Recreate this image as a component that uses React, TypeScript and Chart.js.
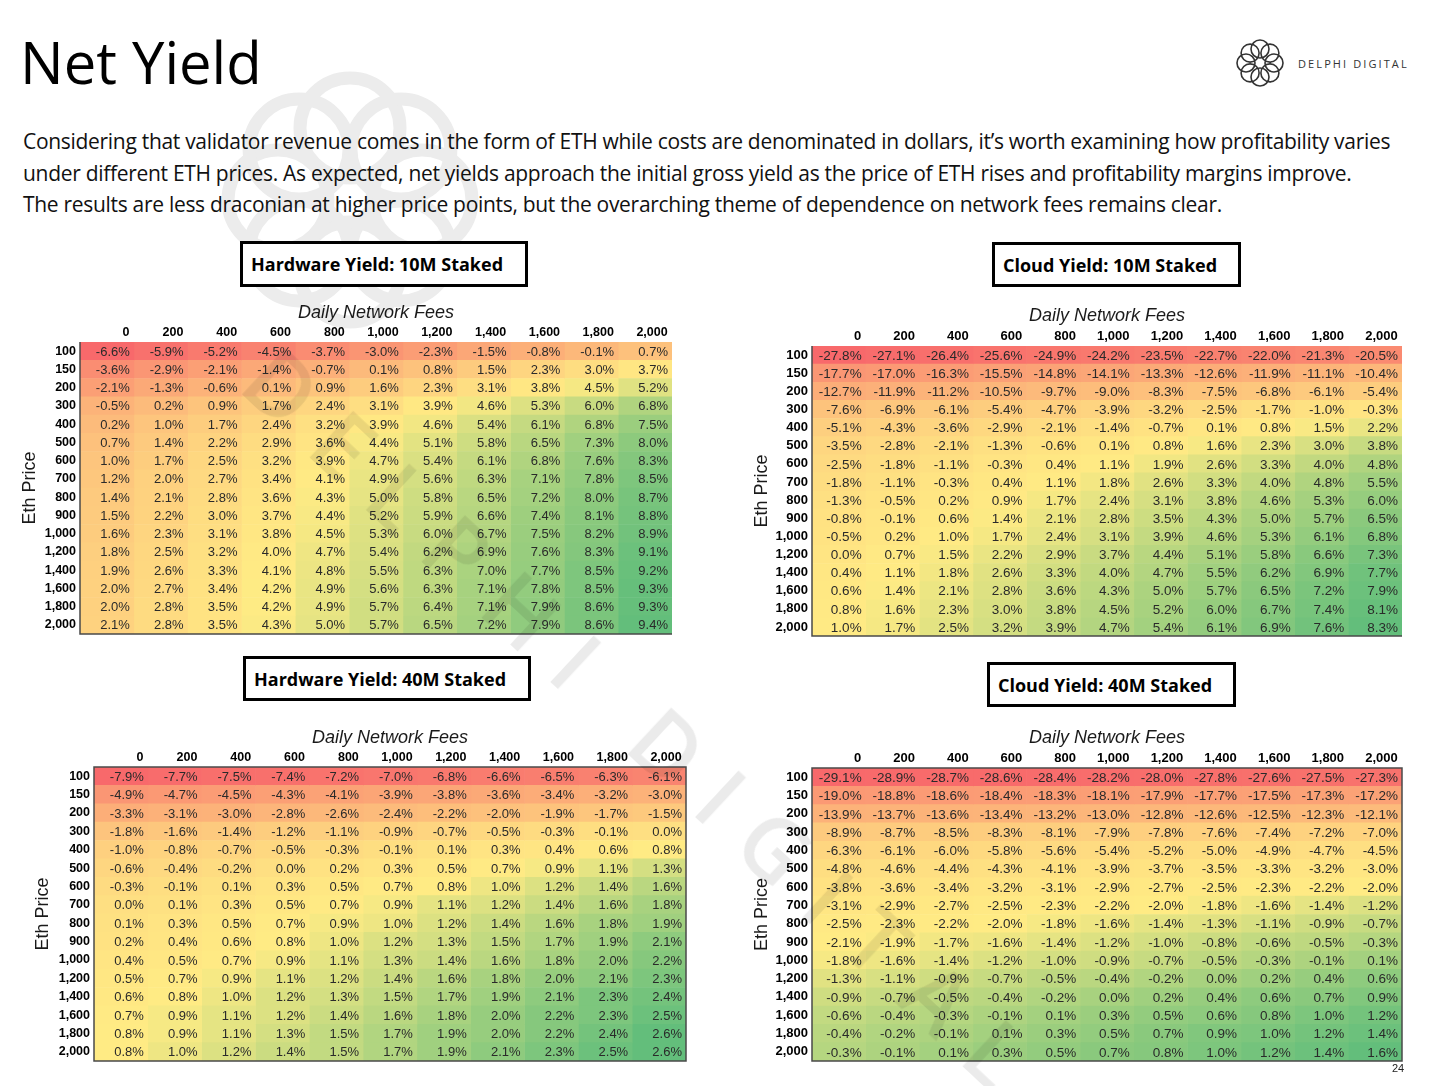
import React, { useEffect, useRef } from 'react';
import { Chart, registerables } from 'chart.js';

Chart.register(...registerables);

// ---------- DATA ----------
const feeLabels = ['0', '200', '400', '600', '800', '1,000', '1,200', '1,400', '1,600', '1,800', '2,000'];
const priceLabels = ['100', '150', '200', '300', '400', '500', '600', '700', '800', '900', '1,000', '1,200', '1,400', '1,600', '1,800', '2,000'];

const hardware10M = [
  [-6.6, -5.9, -5.2, -4.5, -3.7, -3.0, -2.3, -1.5, -0.8, -0.1, 0.7],
  [-3.6, -2.9, -2.1, -1.4, -0.7, 0.1, 0.8, 1.5, 2.3, 3.0, 3.7],
  [-2.1, -1.3, -0.6, 0.1, 0.9, 1.6, 2.3, 3.1, 3.8, 4.5, 5.2],
  [-0.5, 0.2, 0.9, 1.7, 2.4, 3.1, 3.9, 4.6, 5.3, 6.0, 6.8],
  [0.2, 1.0, 1.7, 2.4, 3.2, 3.9, 4.6, 5.4, 6.1, 6.8, 7.5],
  [0.7, 1.4, 2.2, 2.9, 3.6, 4.4, 5.1, 5.8, 6.5, 7.3, 8.0],
  [1.0, 1.7, 2.5, 3.2, 3.9, 4.7, 5.4, 6.1, 6.8, 7.6, 8.3],
  [1.2, 2.0, 2.7, 3.4, 4.1, 4.9, 5.6, 6.3, 7.1, 7.8, 8.5],
  [1.4, 2.1, 2.8, 3.6, 4.3, 5.0, 5.8, 6.5, 7.2, 8.0, 8.7],
  [1.5, 2.2, 3.0, 3.7, 4.4, 5.2, 5.9, 6.6, 7.4, 8.1, 8.8],
  [1.6, 2.3, 3.1, 3.8, 4.5, 5.3, 6.0, 6.7, 7.5, 8.2, 8.9],
  [1.8, 2.5, 3.2, 4.0, 4.7, 5.4, 6.2, 6.9, 7.6, 8.3, 9.1],
  [1.9, 2.6, 3.3, 4.1, 4.8, 5.5, 6.3, 7.0, 7.7, 8.5, 9.2],
  [2.0, 2.7, 3.4, 4.2, 4.9, 5.6, 6.3, 7.1, 7.8, 8.5, 9.3],
  [2.0, 2.8, 3.5, 4.2, 4.9, 5.7, 6.4, 7.1, 7.9, 8.6, 9.3],
  [2.1, 2.8, 3.5, 4.3, 5.0, 5.7, 6.5, 7.2, 7.9, 8.6, 9.4],
];

const cloud10M = [
  [-27.8, -27.1, -26.4, -25.6, -24.9, -24.2, -23.5, -22.7, -22.0, -21.3, -20.5],
  [-17.7, -17.0, -16.3, -15.5, -14.8, -14.1, -13.3, -12.6, -11.9, -11.1, -10.4],
  [-12.7, -11.9, -11.2, -10.5, -9.7, -9.0, -8.3, -7.5, -6.8, -6.1, -5.4],
  [-7.6, -6.9, -6.1, -5.4, -4.7, -3.9, -3.2, -2.5, -1.7, -1.0, -0.3],
  [-5.1, -4.3, -3.6, -2.9, -2.1, -1.4, -0.7, 0.1, 0.8, 1.5, 2.2],
  [-3.5, -2.8, -2.1, -1.3, -0.6, 0.1, 0.8, 1.6, 2.3, 3.0, 3.8],
  [-2.5, -1.8, -1.1, -0.3, 0.4, 1.1, 1.9, 2.6, 3.3, 4.0, 4.8],
  [-1.8, -1.1, -0.3, 0.4, 1.1, 1.8, 2.6, 3.3, 4.0, 4.8, 5.5],
  [-1.3, -0.5, 0.2, 0.9, 1.7, 2.4, 3.1, 3.8, 4.6, 5.3, 6.0],
  [-0.8, -0.1, 0.6, 1.4, 2.1, 2.8, 3.5, 4.3, 5.0, 5.7, 6.5],
  [-0.5, 0.2, 1.0, 1.7, 2.4, 3.1, 3.9, 4.6, 5.3, 6.1, 6.8],
  [0.0, 0.7, 1.5, 2.2, 2.9, 3.7, 4.4, 5.1, 5.8, 6.6, 7.3],
  [0.4, 1.1, 1.8, 2.6, 3.3, 4.0, 4.7, 5.5, 6.2, 6.9, 7.7],
  [0.6, 1.4, 2.1, 2.8, 3.6, 4.3, 5.0, 5.7, 6.5, 7.2, 7.9],
  [0.8, 1.6, 2.3, 3.0, 3.8, 4.5, 5.2, 6.0, 6.7, 7.4, 8.1],
  [1.0, 1.7, 2.5, 3.2, 3.9, 4.7, 5.4, 6.1, 6.9, 7.6, 8.3],
];

const hardware40M = [
  [-7.9, -7.7, -7.5, -7.4, -7.2, -7.0, -6.8, -6.6, -6.5, -6.3, -6.1],
  [-4.9, -4.7, -4.5, -4.3, -4.1, -3.9, -3.8, -3.6, -3.4, -3.2, -3.0],
  [-3.3, -3.1, -3.0, -2.8, -2.6, -2.4, -2.2, -2.0, -1.9, -1.7, -1.5],
  [-1.8, -1.6, -1.4, -1.2, -1.1, -0.9, -0.7, -0.5, -0.3, -0.1, 0.0],
  [-1.0, -0.8, -0.7, -0.5, -0.3, -0.1, 0.1, 0.3, 0.4, 0.6, 0.8],
  [-0.6, -0.4, -0.2, 0.0, 0.2, 0.3, 0.5, 0.7, 0.9, 1.1, 1.3],
  [-0.3, -0.1, 0.1, 0.3, 0.5, 0.7, 0.8, 1.0, 1.2, 1.4, 1.6],
  [0.0, 0.1, 0.3, 0.5, 0.7, 0.9, 1.1, 1.2, 1.4, 1.6, 1.8],
  [0.1, 0.3, 0.5, 0.7, 0.9, 1.0, 1.2, 1.4, 1.6, 1.8, 1.9],
  [0.2, 0.4, 0.6, 0.8, 1.0, 1.2, 1.3, 1.5, 1.7, 1.9, 2.1],
  [0.4, 0.5, 0.7, 0.9, 1.1, 1.3, 1.4, 1.6, 1.8, 2.0, 2.2],
  [0.5, 0.7, 0.9, 1.1, 1.2, 1.4, 1.6, 1.8, 2.0, 2.1, 2.3],
  [0.6, 0.8, 1.0, 1.2, 1.3, 1.5, 1.7, 1.9, 2.1, 2.3, 2.4],
  [0.7, 0.9, 1.1, 1.2, 1.4, 1.6, 1.8, 2.0, 2.2, 2.3, 2.5],
  [0.8, 0.9, 1.1, 1.3, 1.5, 1.7, 1.9, 2.0, 2.2, 2.4, 2.6],
  [0.8, 1.0, 1.2, 1.4, 1.5, 1.7, 1.9, 2.1, 2.3, 2.5, 2.6],
];

const cloud40M = [
  [-29.1, -28.9, -28.7, -28.6, -28.4, -28.2, -28.0, -27.8, -27.6, -27.5, -27.3],
  [-19.0, -18.8, -18.6, -18.4, -18.3, -18.1, -17.9, -17.7, -17.5, -17.3, -17.2],
  [-13.9, -13.7, -13.6, -13.4, -13.2, -13.0, -12.8, -12.6, -12.5, -12.3, -12.1],
  [-8.9, -8.7, -8.5, -8.3, -8.1, -7.9, -7.8, -7.6, -7.4, -7.2, -7.0],
  [-6.3, -6.1, -6.0, -5.8, -5.6, -5.4, -5.2, -5.0, -4.9, -4.7, -4.5],
  [-4.8, -4.6, -4.4, -4.3, -4.1, -3.9, -3.7, -3.5, -3.3, -3.2, -3.0],
  [-3.8, -3.6, -3.4, -3.2, -3.1, -2.9, -2.7, -2.5, -2.3, -2.2, -2.0],
  [-3.1, -2.9, -2.7, -2.5, -2.3, -2.2, -2.0, -1.8, -1.6, -1.4, -1.2],
  [-2.5, -2.3, -2.2, -2.0, -1.8, -1.6, -1.4, -1.3, -1.1, -0.9, -0.7],
  [-2.1, -1.9, -1.7, -1.6, -1.4, -1.2, -1.0, -0.8, -0.6, -0.5, -0.3],
  [-1.8, -1.6, -1.4, -1.2, -1.0, -0.9, -0.7, -0.5, -0.3, -0.1, 0.1],
  [-1.3, -1.1, -0.9, -0.7, -0.5, -0.4, -0.2, 0.0, 0.2, 0.4, 0.6],
  [-0.9, -0.7, -0.5, -0.4, -0.2, 0.0, 0.2, 0.4, 0.6, 0.7, 0.9],
  [-0.6, -0.4, -0.3, -0.1, 0.1, 0.3, 0.5, 0.6, 0.8, 1.0, 1.2],
  [-0.4, -0.2, -0.1, 0.1, 0.3, 0.5, 0.7, 0.9, 1.0, 1.2, 1.4],
  [-0.3, -0.1, 0.1, 0.3, 0.5, 0.7, 0.8, 1.0, 1.2, 1.4, 1.6],
];

const paragraphLines = [
  'Considering that validator revenue comes in the form of ETH while costs are denominated in dollars, it’s worth examining how profitability varies',
  'under different ETH prices. As expected, net yields approach the initial gross yield as the price of ETH rises and profitability margins improve.',
  'The results are less draconian at higher price points, but the overarching theme of dependence on network fees remains clear.',
];

// ---------- COLOR SCALE (Excel-style 3 colour scale) ----------
const RED = [248, 105, 107];
const YEL = [255, 235, 132];
const GRN = [99, 190, 123];

function mix(a: number[], b: number[], t: number) {
  const c = a.map((v, i) => Math.round(v + (b[i] - v) * t));
  return `rgb(${c[0]},${c[1]},${c[2]})`;
}

function makeColorScale(values: number[][]) {
  const flat = values.flat().slice().sort((a, b) => a - b);
  const min = flat[0];
  const max = flat[flat.length - 1];
  const pos = (flat.length - 1) * 0.5;
  const lo = Math.floor(pos);
  const mid = flat[lo] + (flat[Math.min(lo + 1, flat.length - 1)] - flat[lo]) * (pos - lo);
  return (v: number) => {
    if (v <= mid) return mix(RED, YEL, mid === min ? 1 : (v - min) / (mid - min));
    return mix(YEL, GRN, max === mid ? 1 : (v - mid) / (max - mid));
  };
}

const TABLE_FONT = '"Liberation Sans", Arial, sans-serif';
Chart.defaults.font.family = TABLE_FONT;

type HeatmapProps = {
  values: number[][];
  gridLeft: number;
  gridTop: number;
  gridRight: number;
  gridBottom: number;
  axisW: number;
  axisH: number;
  fullBorder: boolean;
  cellFont: number;
  labelFont: number;
};

function Heatmap({ values, gridLeft, gridTop, gridRight, gridBottom, axisW, axisH, fullBorder, cellFont, labelFont }: HeatmapProps) {
  const ref = useRef<HTMLCanvasElement>(null);
  const PAD = 3;
  const W = gridRight - gridLeft + axisW + PAD;
  const H = gridBottom - gridTop + axisH + PAD;

  useEffect(() => {
    if (!ref.current) return;
    const colorOf = makeColorScale(values);
    const datasets = feeLabels.map((fee, j) => ({
      label: fee,
      data: priceLabels.map(() => 1),
      backgroundColor: priceLabels.map((_, i) => colorOf(values[i][j])),
      borderWidth: 0,
      barPercentage: 1,
      categoryPercentage: 1,
    }));

    const cellText = {
      id: 'cellText',
      afterDatasetsDraw(chart: any) {
        const ctx = chart.ctx;
        ctx.save();
        ctx.font = `${cellFont}px ${TABLE_FONT}`;
        ctx.fillStyle = '#2a2a2a';
        ctx.textAlign = 'right';
        ctx.textBaseline = 'middle';
        chart.data.datasets.forEach((_: any, j: number) => {
          const meta = chart.getDatasetMeta(j);
          meta.data.forEach((el: any, i: number) => {
            const { x, y } = el.getProps(['x', 'y'], true);
            ctx.fillText(values[i][j].toFixed(1) + '%', x - 4, y + 1);
          });
        });
        const a = chart.chartArea;
        ctx.strokeStyle = '#4a4a4a';
        ctx.lineWidth = 1.5;
        ctx.beginPath();
        if (fullBorder) {
          ctx.rect(a.left, a.top, a.right - a.left, a.bottom - a.top);
        } else {
          ctx.moveTo(a.left, a.top);
          ctx.lineTo(a.left, a.bottom);
          ctx.lineTo(a.right, a.bottom);
        }
        ctx.stroke();
        ctx.restore();
      },
    };

    const chart = new Chart(ref.current, {
      type: 'bar',
      data: { labels: priceLabels, datasets },
      options: {
        indexAxis: 'y',
        responsive: false,
        animation: false,
        layout: { padding: { left: 0, top: 0, right: PAD, bottom: PAD } },
        plugins: {
          legend: { display: false },
          tooltip: { enabled: false },
        },
        scales: {
          x: {
            type: 'linear',
            stacked: true,
            position: 'top',
            min: 0,
            max: feeLabels.length,
            grid: { display: false, drawTicks: false },
            border: { display: false },
            afterBuildTicks: (s: any) => {
              s.ticks = feeLabels.map((_, j) => ({ value: j + 0.92 }));
            },
            afterFit: (s: any) => {
              s.height = axisH;
              s.paddingLeft = 0;
              s.paddingRight = 0;
            },
            ticks: {
              autoSkip: false,
              maxRotation: 0,
              align: 'end',
              padding: 2,
              color: '#000',
              font: { size: labelFont, weight: 'bold' },
              callback: (_v: any, idx: number) => feeLabels[idx],
            },
            title: {
              display: true,
              text: 'Daily Network Fees',
              color: '#1a1a1a',
              font: { size: 18, style: 'italic' },
              padding: { top: 1, bottom: 0 },
            },
          },
          y: {
            type: 'category',
            stacked: true,
            position: 'left',
            grid: { display: false, drawTicks: false },
            border: { display: false },
            afterFit: (s: any) => {
              s.width = axisW;
              s.paddingTop = 0;
              s.paddingBottom = 0;
            },
            ticks: {
              autoSkip: false,
              padding: 4,
              color: '#000',
              font: { size: labelFont, weight: 'bold' },
            },
            title: {
              display: true,
              text: 'Eth Price',
              color: '#1a1a1a',
              font: { size: 18 },
              padding: 0,
            },
          },
        },
      } as any,
      plugins: [cellText],
    });
    return () => chart.destroy();
  }, []);

  return (
    <canvas
      ref={ref}
      width={W}
      height={H}
      style={{ position: 'absolute', left: gridLeft - axisW, top: gridTop - axisH, width: W, height: H }}
    />
  );
}

function TitleBox({ text, left, top, width, height }: { text: string; left: number; top: number; width: number; height: number }) {
  return (
    <div
      style={{
        position: 'absolute',
        left,
        top,
        width,
        height,
        boxSizing: 'border-box',
        border: '3px solid #000',
        background: '#fff',
        display: 'flex',
        alignItems: 'center',
        paddingLeft: 8,
        fontFamily: '"Open Sans", sans-serif',
        fontWeight: 700,
        fontSize: 18,
        color: '#000',
        whiteSpace: 'nowrap',
      }}
    >
      {text}
    </div>
  );
}

function KnotLogo({ cx, cy, ring, r, stroke, color }: { cx: number; cy: number; ring: number; r: number; stroke: number; color: string }) {
  const circles = [];
  for (let k = 0; k < 8; k++) {
    const a = (k / 8) * Math.PI * 2;
    circles.push(
      <circle key={k} cx={cx + ring * Math.cos(a)} cy={cy + ring * Math.sin(a)} r={r} fill="none" stroke={color} strokeWidth={stroke} />
    );
  }
  return <g>{circles}</g>;
}

export default function App() {
  return (
    <div
      style={{
        position: 'absolute',
        left: 0,
        top: 0,
        width: 1430,
        height: 1086,
        background: '#fff',
        overflow: 'hidden',
      }}
    >
      {/* faint background watermark logo */}
      <svg width={1430} height={1086} style={{ position: 'absolute', left: 0, top: 0 }}>
        <KnotLogo cx={350} cy={200} ring={72} r={50} stroke={13} color="#ececec" />
      </svg>

      <div
        style={{
          position: 'absolute',
          left: 20,
          top: 22,
          fontFamily: '"Open Sans", sans-serif',
          fontSize: 58,
          color: '#000',
          lineHeight: '80px',
          whiteSpace: 'nowrap',
        }}
      >
        Net Yield
      </div>

      <svg width={60} height={60} style={{ position: 'absolute', left: 1230, top: 33 }}>
        <KnotLogo cx={30} cy={30} ring={14} r={9} stroke={1.6} color="#333" />
      </svg>
      <div
        style={{
          position: 'absolute',
          left: 1298,
          top: 56,
          fontFamily: '"Open Sans", sans-serif',
          fontSize: 11,
          letterSpacing: 2.1,
          color: '#333',
          whiteSpace: 'nowrap',
          lineHeight: '16px',
        }}
      >
        DELPHI DIGITAL
      </div>

      <div style={{ position: 'absolute', left: 23, top: 126 }}>
        {paragraphLines.map((line, i) => (
          <div
            key={i}
            style={{
              fontFamily: '"Open Sans", sans-serif',
              fontSize: 21,
              lineHeight: '31.5px',
              color: '#111',
              whiteSpace: 'nowrap',
              letterSpacing: -0.3,
            }}
          >
            {line}
          </div>
        ))}
      </div>

      <TitleBox text="Hardware Yield: 10M Staked" left={240} top={241} width={288} height={46} />
      <TitleBox text="Cloud Yield: 10M Staked" left={992} top={242} width={249} height={45} />
      <TitleBox text="Hardware Yield: 40M Staked" left={243} top={656} width={288} height={45} />
      <TitleBox text="Cloud Yield: 40M Staked" left={987} top={662} width={249} height={45} />

      <Heatmap values={hardware10M} gridLeft={80} gridTop={342} gridRight={672} gridBottom={634} axisW={61} axisH={41} fullBorder={false} cellFont={13} labelFont={12.5} />
      <Heatmap values={cloud10M} gridLeft={812} gridTop={346} gridRight={1402} gridBottom={636} axisW={61} axisH={42} fullBorder={false} cellFont={13.5} labelFont={13} />
      <Heatmap values={hardware40M} gridLeft={94} gridTop={767} gridRight={686} gridBottom={1061} axisW={62} axisH={41} fullBorder={true} cellFont={13} labelFont={12.5} />
      <Heatmap values={cloud40M} gridLeft={812} gridTop={768} gridRight={1402} gridBottom={1061} axisW={61} axisH={42} fullBorder={true} cellFont={13.5} labelFont={13} />

      {/* diagonal watermark text */}
      <div
        style={{
          position: 'absolute',
          left: 300,
          top: 320,
          transformOrigin: '0 0',
          transform: 'rotate(43deg)',
          fontFamily: '"Open Sans", sans-serif',
          fontSize: 88,
          fontWeight: 600,
          letterSpacing: 28,
          color: 'rgba(0,0,0,0.08)',
          whiteSpace: 'nowrap',
          pointerEvents: 'none',
        }}
      >
        DELPHI DIGITAL
      </div>

      <div
        style={{
          position: 'absolute',
          left: 1392,
          top: 1062,
          fontFamily: '"Liberation Sans", Arial, sans-serif',
          fontSize: 11,
          color: '#222',
        }}
      >
        24
      </div>
    </div>
  );
}
